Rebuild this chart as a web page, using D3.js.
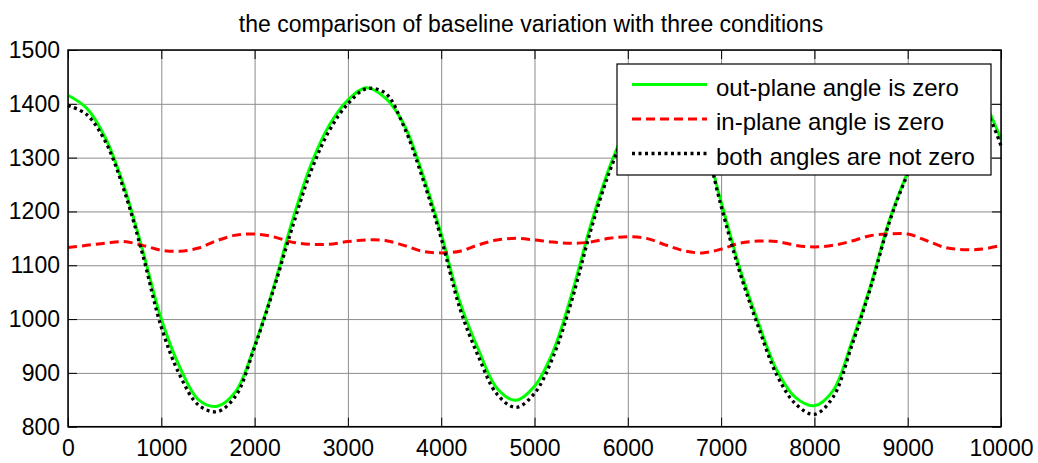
<!DOCTYPE html>
<html>
<head>
<meta charset="utf-8">
<script src="https://cdn.jsdelivr.net/npm/d3@7"></script>
<style>
  body { margin: 0; background: #fff; }
  text { font-family: "Liberation Sans", Arial, sans-serif; fill: #000; }
</style>
</head>
<body>
<div id="chart"></div>
<script>
const xs = d3.range(0, 10001, 200)

const outPlane = [
  1416, 1392, 1337, 1247, 1128, 1000, 910, 850, 838, 866,
  951, 1057, 1180, 1285, 1360, 1407, 1430, 1411, 1362, 1270,
  1158, 1032, 943, 871, 849, 875, 940, 1047, 1173, 1280,
  1360, 1410, 1430, 1405, 1340, 1218, 1095, 993, 904, 854,
  839, 867, 957, 1061, 1182, 1273, 1350, 1405, 1425, 1405,
  1333
]

const inPlane = [
  1133, 1137, 1141, 1144, 1137, 1128, 1126, 1132, 1146, 1156,
  1158, 1153, 1143, 1139, 1139, 1144, 1147, 1146, 1137, 1126,
  1123, 1126, 1138, 1147, 1150, 1147, 1143, 1141, 1143, 1150,
  1153, 1150, 1138, 1127, 1123, 1130, 1141, 1145, 1144, 1137,
  1134, 1137, 1145, 1155, 1158, 1158, 1146, 1133, 1129, 1130,
  1137
]

const bothAngles = [
  1397, 1380, 1330, 1240, 1120, 985, 895, 840, 828, 858,
  948, 1053, 1168, 1273, 1350, 1400, 1428, 1420, 1358, 1262,
  1150, 1020, 930, 860, 836, 862, 930, 1035, 1163, 1272,
  1355, 1410, 1432, 1410, 1342, 1210, 1087, 985, 895, 842,
  823, 855, 950, 1057, 1178, 1270, 1345, 1400, 1422, 1398,
  1322
]

const xTicks = d3.range(0, 10001, 1000)
const yTicks = d3.range(800, 1501, 100)
const title = 'the comparison of baseline variation with three conditions'

const series = [
  { name: 'out-plane angle is zero', values: outPlane, color: '#00ff00', dash: null, width: 3 },
  { name: 'in-plane angle is zero', values: inPlane, color: '#ff0000', dash: '9,5', width: 3 },
  { name: 'both angles are not zero', values: bothAngles, color: '#000', dash: '3,3.5', width: 3.3 }
]

const width = 1038
const height = 463
const margin = { top: 50, right: 37, bottom: 36.3, left: 68 }

const x = d3.scaleLinear()
  .domain([0, 10000])
  .range([margin.left, width - margin.right])

const y = d3.scaleLinear()
  .domain([800, 1500])
  .range([height - margin.bottom, margin.top])

const svg = d3.select('#chart').append('svg')
  .attr('width', width)
  .attr('height', height)

// grid
svg.append('g')
  .attr('transform', `translate(0,${y.range()[0]})`)
  .call(d3.axisBottom(x).tickValues(xTicks).tickSize(-(y.range()[0] - y.range()[1])).tickFormat(''))
  .call(g => g.select('.domain').remove())
  .call(g => g.selectAll('line').attr('stroke', '#8c8c8c').attr('stroke-width', 1))

svg.append('g')
  .attr('transform', `translate(${margin.left},0)`)
  .call(d3.axisLeft(y).tickValues(yTicks).tickSize(-(x.range()[1] - x.range()[0])).tickFormat(''))
  .call(g => g.select('.domain').remove())
  .call(g => g.selectAll('line').attr('stroke', '#8c8c8c').attr('stroke-width', 1))

// series
const line = d3.line()
  .x((d, i) => x(xs[i]))
  .y(d => y(d))
  .curve(d3.curveCatmullRom)

const plot = svg.append('g')

series.forEach(s => {
  plot.append('path')
    .datum(s.values)
    .attr('fill', 'none')
    .attr('stroke', s.color)
    .attr('stroke-width', s.width)
    .attr('stroke-dasharray', s.dash)
    .attr('stroke-linejoin', 'round')
    .attr('d', line)
})

// axes with inward ticks
const tickLen = 9
const styleAxis = g => g
  .call(g => g.select('.domain').remove())
  .call(g => g.selectAll('line').attr('stroke', '#000'))
  .call(g => g.selectAll('text').style('font-size', '23px').style('font-family', '"Liberation Sans", Arial, sans-serif'))

svg.append('g')
  .attr('transform', `translate(0,${y.range()[0]})`)
  .call(d3.axisBottom(x).tickValues(xTicks).tickSize(-tickLen).tickPadding(13).tickFormat(d3.format('d')))
  .call(styleAxis)

svg.append('g')
  .attr('transform', `translate(0,${y.range()[1]})`)
  .call(d3.axisTop(x).tickValues(xTicks).tickSize(-tickLen).tickFormat(''))
  .call(styleAxis)

svg.append('g')
  .attr('transform', `translate(${margin.left},0)`)
  .call(d3.axisLeft(y).tickValues(yTicks).tickSize(-tickLen).tickPadding(8).tickFormat(d3.format('d')))
  .call(styleAxis)

svg.append('g')
  .attr('transform', `translate(${x.range()[1]},0)`)
  .call(d3.axisRight(y).tickValues(yTicks).tickSize(-tickLen).tickFormat(''))
  .call(styleAxis)

svg.append('rect')
  .attr('x', x.range()[0])
  .attr('y', y.range()[1])
  .attr('width', x.range()[1] - x.range()[0])
  .attr('height', y.range()[0] - y.range()[1])
  .attr('fill', 'none')
  .attr('stroke', '#000')
  .attr('stroke-width', 1.5)

// title
svg.append('text')
  .attr('x', 531)
  .attr('y', 32)
  .attr('text-anchor', 'middle')
  .style('font-size', '23px')
  .text(title)

// legend
const legend = svg.append('g')
  .attr('transform', 'translate(617,64)')

legend.append('rect')
  .attr('width', 374)
  .attr('height', 111)
  .attr('fill', '#fff')
  .attr('stroke', '#000')
  .attr('stroke-width', 1.2)

series.forEach((s, i) => {
  const ly = 20.5 + i * 34.5
  legend.append('line')
    .attr('x1', 15)
    .attr('x2', 90)
    .attr('y1', ly)
    .attr('y2', ly)
    .attr('stroke', s.color)
    .attr('stroke-width', s.width)
    .attr('stroke-dasharray', s.dash)
  legend.append('text')
    .attr('x', 99)
    .attr('y', ly + 11)
    .style('font-size', '24px')
    .text(s.name)
})
</script>
</body>
</html>
